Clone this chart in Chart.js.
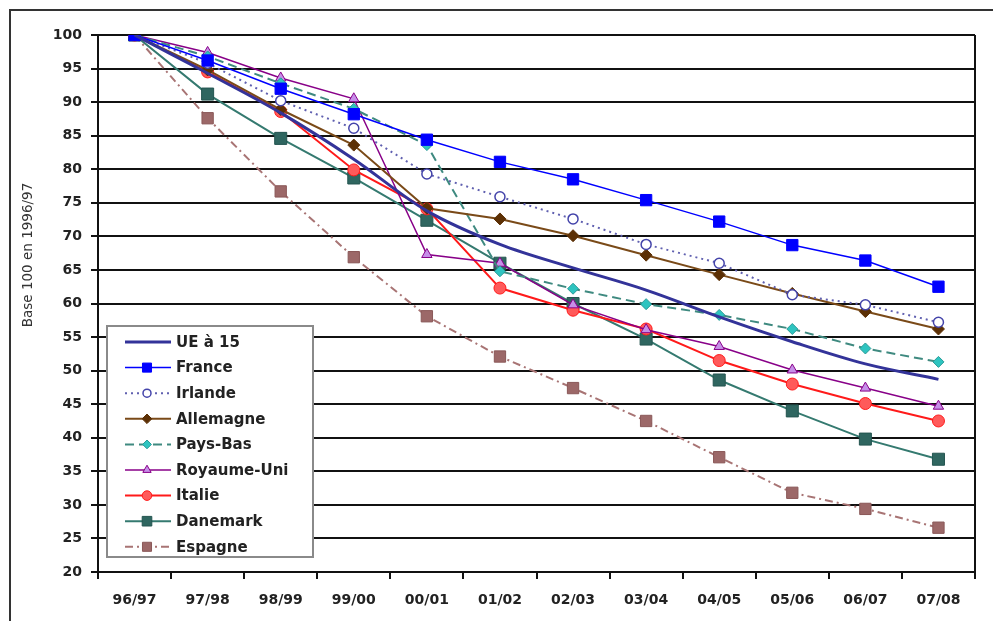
<!DOCTYPE html>
<html>
<head>
<meta charset="utf-8">
<script src="https://cdn.jsdelivr.net/npm/chart.js@4/dist/chart.umd.min.js"></script>
<style>
  html, body { margin: 0; padding: 0; background: #fff; }
  #wrap { position: relative; width: 993px; height: 621px; overflow: hidden; }
  #frame { position: absolute; left: 9px; top: 9px; width: 1000px; height: 700px;
           border-left: 2px solid #333; border-top: 2px solid #333; pointer-events: none; }
  canvas { position: absolute; left: 0; top: 0; }
</style>
</head>
<body>
<div id="wrap">
  <canvas id="chart" width="993" height="621"></canvas>
  <div id="frame"></div>
</div>
<script>
// categories + series
const categories = ['96/97', '97/98', '98/99', '99/00', '00/01', '01/02', '02/03', '03/04', '04/05', '05/06', '06/07', '07/08'];
const yTicks = [20, 25, 30, 35, 40, 45, 50, 55, 60, 65, 70, 75, 80, 85, 90, 95, 100];

const ue15       = [100, 94.3, 88.4, 81.5, 73.8, 68.8, 65.3, 62.0, 58.0, 54.3, 51.0, 48.7];
const france     = [100, 96.2, 92.0, 88.2, 84.4, 81.1, 78.5, 75.4, 72.2, 68.7, 66.4, 62.5];
const irlande    = [100, 95.8, 90.2, 86.1, 79.3, 75.9, 72.6, 68.8, 66.0, 61.3, 59.8, 57.2];
const allemagne  = [100, 94.8, 88.9, 83.6, 74.2, 72.6, 70.1, 67.2, 64.3, 61.5, 58.8, 56.2];
const paysBas    = [100, 96.8, 92.8, 89.0, 83.6, 64.8, 62.2, 59.9, 58.3, 56.2, 53.3, 51.3];
const royaumeUni = [100, 97.4, 93.6, 90.5, 67.3, 66.0, 59.8, 56.1, 53.6, 50.1, 47.4, 44.7];
const italie     = [100, 94.5, 88.6, 79.9, 74.1, 62.3, 59.0, 56.2, 51.5, 48.0, 45.1, 42.5];
const danemark   = [100, 91.2, 84.6, 78.7, 72.4, 66.0, 60.0, 54.7, 48.6, 44.0, 39.8, 36.8];
const espagne    = [100, 87.6, 76.7, 66.9, 58.1, 52.1, 47.4, 42.5, 37.1, 31.8, 29.4, 26.6];

Chart.defaults.font.family = "'DejaVu Sans', sans-serif";
Chart.defaults.color = '#222';

function series(label, data, color, opts) {
  return Object.assign({
    label: label,
    data: data,
    borderColor: color,
    backgroundColor: color,
    borderWidth: 2,
    pointBorderColor: color,
    pointBackgroundColor: color,
    pointBorderWidth: 1,
    tension: 0,
    fill: false
  }, opts || {});
}

const datasets = [
  series('UE à 15', ue15, '#333399', { borderWidth: 3, pointRadius: 0, tension: 0.35 }),
  series('France', france, '#0000ff', { borderWidth: 1.5, pointStyle: 'rect', pointRadius: 8 }),
  series('Irlande', irlande, '#6060b0', { borderDash: [2, 4], pointStyle: 'circle', pointRadius: 5,
    pointBackgroundColor: '#fff', pointBorderColor: '#4444aa', pointBorderWidth: 1.5 }),
  series('Allemagne', allemagne, '#7a4a18', { pointStyle: 'rectRot', pointRadius: 6,
    pointBackgroundColor: '#5c3005', pointBorderColor: '#5c3005' }),
  series('Pays-Bas', paysBas, '#3f8a80', { borderDash: [9, 5], pointStyle: 'rectRot', pointRadius: 5.5,
    pointBackgroundColor: '#2ec4c0', pointBorderColor: '#2a9a96' }),
  series('Royaume-Uni', royaumeUni, '#880088', { borderWidth: 1.5, pointStyle: 'triangle', pointRadius: 6,
    pointBackgroundColor: '#c68fe8', pointBorderColor: '#880088' }),
  series('Italie', italie, '#ff1a1a', { pointStyle: 'circle', pointRadius: 6,
    pointBackgroundColor: '#ff5a5a', pointBorderColor: '#ff1a1a' }),
  series('Danemark', danemark, '#357a70', { pointStyle: 'rect', pointRadius: 8.5,
    pointBackgroundColor: '#2f6660', pointBorderColor: '#245550' }),
  series('Espagne', espagne, '#a87474', { borderDash: [8, 4, 2, 4], pointStyle: 'rect', pointRadius: 8,
    pointBackgroundColor: '#9c6868', pointBorderColor: '#8a5858' })
];

// legend box, axis title and right border drawn on the canvas
const extras = {
  id: 'extras',
  afterDraw(chart) {
    const ctx = chart.ctx;
    const area = chart.chartArea;
    ctx.save();

    // right edge of plot area
    ctx.strokeStyle = '#111';
    ctx.lineWidth = 2;
    ctx.beginPath();
    ctx.moveTo(area.right, area.top);
    ctx.lineTo(area.right, area.bottom);
    ctx.stroke();

    // y axis title
    ctx.fillStyle = '#333';
    ctx.font = "13.5px 'DejaVu Sans', sans-serif";
    ctx.textAlign = 'center';
    ctx.textBaseline = 'middle';
    ctx.translate(28, 255);
    ctx.rotate(-Math.PI / 2);
    ctx.fillText('Base 100 en 1996/97', 0, 0);
    ctx.restore();

    // legend
    ctx.save();
    const bx = 107, by = 326, bw = 206, bh = 231;
    ctx.fillStyle = '#fff';
    ctx.fillRect(bx, by, bw, bh);
    ctx.strokeStyle = '#8a8a8a';
    ctx.lineWidth = 2;
    ctx.strokeRect(bx, by, bw, bh);

    chart.data.datasets.forEach((ds, i) => {
      const y = 342 + i * 25.6;
      ctx.strokeStyle = ds.borderColor;
      ctx.lineWidth = ds.borderWidth;
      ctx.setLineDash(ds.borderDash || []);
      ctx.beginPath();
      ctx.moveTo(125, y);
      ctx.lineTo(171, y);
      ctx.stroke();
      ctx.setLineDash([]);
      if (ds.pointRadius !== 0) {
        ctx.fillStyle = ds.pointBackgroundColor;
        ctx.strokeStyle = ds.pointBorderColor;
        ctx.lineWidth = ds.pointBorderWidth;
        Chart.helpers.drawPoint(ctx, {
          pointStyle: ds.pointStyle,
          radius: ds.pointRadius * 0.8,
          rotation: 0,
          borderWidth: ds.pointBorderWidth
        }, 147, y);
      }
      ctx.fillStyle = '#222';
      ctx.font = "bold 15px 'DejaVu Sans', sans-serif";
      ctx.textAlign = 'left';
      ctx.textBaseline = 'middle';
      ctx.fillText(ds.label, 176, y + 1);
    });
    ctx.restore();
  }
};

new Chart(document.getElementById('chart'), {
  type: 'line',
  data: { labels: categories, datasets: datasets },
  options: {
    responsive: false,
    animation: false,
    devicePixelRatio: 1,
    layout: { padding: { left: 0, top: 35, right: 18, bottom: 0 } },
    plugins: {
      legend: { display: false },
      tooltip: { enabled: false }
    },
    scales: {
      x: {
        offset: true,
        grid: { offset: true, drawOnChartArea: false, color: '#111', lineWidth: 2, tickLength: 7 },
        border: { color: '#111', width: 2 },
        ticks: { padding: 13, font: { size: 14, weight: 'bold' }, maxRotation: 0 },
        afterFit(scale) { scale.height = 49; }
      },
      y: {
        min: 20,
        max: 100,
        afterBuildTicks(scale) { scale.ticks = yTicks.map(v => ({ value: v })); },
        grid: { color: '#111', lineWidth: 2, tickLength: 7 },
        border: { color: '#111', width: 2 },
        ticks: { padding: 9, font: { size: 14, weight: 'bold' } },
        afterFit(scale) { scale.width = 98; }
      }
    }
  },
  plugins: [extras]
});
</script>
</body>
</html>
